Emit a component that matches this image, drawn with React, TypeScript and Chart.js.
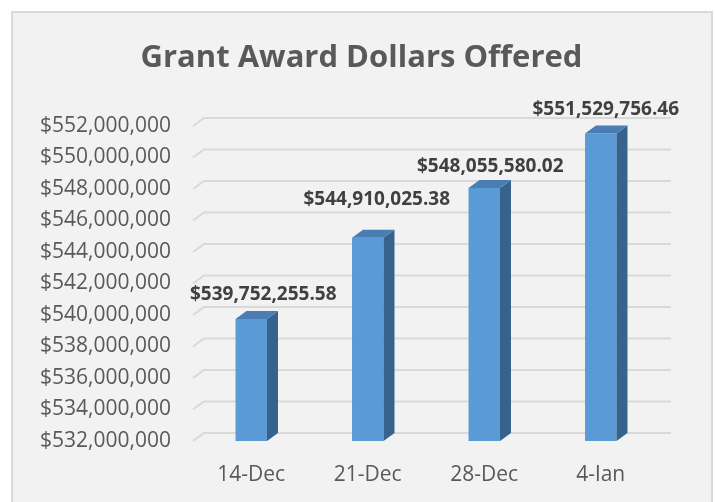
import React, { useEffect, useRef } from 'react';
import { Chart, registerables } from 'chart.js';

Chart.register(...registerables);

// ---- data ----
const chartTitle = 'Grant Award Dollars Offered';
const categories = ['14-Dec', '21-Dec', '28-Dec', '4-Jan'];
const awardDollars = [539752255.58, 544910025.38, 548055580.02, 551529756.46];
const yMin = 532000000;
const yMax = 552000000;
const yStep = 2000000;

// ---- style ----
const DX = 11;
const DY = -8;
const labelShiftX = [12, 9, 6, 5];
const labelLift = [24, 38, 22, 24];
const FONT = '"Open Sans", "Noto Sans", sans-serif';

const money = (v: number, dec: number) =>
  '$' + v.toLocaleString('en-US', { minimumFractionDigits: dec, maximumFractionDigits: dec });

const depthPlugin = {
  id: 'depth3d',
  beforeDatasetsDraw(chart: any) {
    const { ctx, chartArea, scales } = chart;
    const ys = scales.y;
    ctx.save();
    ctx.strokeStyle = '#d9d9d9';
    ctx.lineWidth = 2;
    ys.ticks.forEach((t: any) => {
      const py = ys.getPixelForValue(t.value);
      ctx.beginPath();
      ctx.moveTo(chartArea.left, py);
      ctx.lineTo(chartArea.left + DX, py + DY);
      ctx.lineTo(chartArea.right + DX + 1, py + DY);
      ctx.stroke();
    });
    ctx.restore();
  },
  afterDatasetsDraw(chart: any) {
    const { ctx, chartArea } = chart;
    const meta = chart.getDatasetMeta(0);
    ctx.save();
    meta.data.forEach((bar: any, i: number) => {
      const { x, y, base: rawBase, width } = bar.getProps(['x', 'y', 'base', 'width'], true);
      const base = Math.min(rawBase, chartArea.bottom);
      const l = x - width / 2;
      const r = x + width / 2;
      // side face
      ctx.fillStyle = '#37628b';
      ctx.beginPath();
      ctx.moveTo(r, y);
      ctx.lineTo(r + DX, y + DY);
      ctx.lineTo(r + DX, base + DY);
      ctx.lineTo(r, base);
      ctx.closePath();
      ctx.fill();
      // top face
      ctx.fillStyle = '#4a7db3';
      ctx.beginPath();
      ctx.moveTo(l, y);
      ctx.lineTo(l + DX, y + DY);
      ctx.lineTo(r + DX, y + DY);
      ctx.lineTo(r, y);
      ctx.closePath();
      ctx.fill();
      // data label
      ctx.fillStyle = '#404040';
      ctx.font = `bold 19px ${FONT}`;
      ctx.textAlign = 'center';
      ctx.textBaseline = 'middle';
      ctx.fillText(money(awardDollars[i], 2), x + labelShiftX[i], y - labelLift[i]);
    });
    ctx.restore();
  },
  afterDraw(chart: any) {
    const { ctx } = chart;
    ctx.save();
    ctx.fillStyle = '#595959';
    ctx.font = `bold 31px ${FONT}`;
    ctx.textAlign = 'center';
    ctx.textBaseline = 'alphabetic';
    ctx.fillText(chartTitle, 361.5, 67);
    ctx.restore();
  },
};

export default function App() {
  const ref = useRef<HTMLCanvasElement | null>(null);
  useEffect(() => {
    if (!ref.current) return;
    const chart = new Chart(ref.current, {
      type: 'bar',
      data: {
        labels: categories,
        datasets: [
          {
            data: awardDollars,
            backgroundColor: '#5b9bd5',
            borderWidth: 0,
            barPercentage: 0.27,
            categoryPercentage: 1,
          },
        ],
      },
      options: {
        responsive: false,
        animation: false,
        devicePixelRatio: 1,
        layout: { padding: { top: 126, left: 0, right: 56, bottom: 21 } },
        plugins: {
          legend: { display: false },
          title: { display: false },
          tooltip: { enabled: false },
        },
        scales: {
          x: {
            grid: { display: false, drawTicks: false },
            border: { display: false },
            ticks: { color: '#595959', font: { family: FONT, size: 21 }, padding: 21 },
            afterFit: (s: any) => {
              s.height = 40;
            },
          },
          y: {
            min: yMin,
            max: yMax,
            grid: { display: false, drawTicks: false },
            border: { display: false },
            ticks: {
              stepSize: yStep,
              color: '#595959',
              font: { family: FONT, size: 21 },
              padding: 22,
              callback: (v: any) => money(Number(v), 0),
            },
            afterFit: (s: any) => {
              s.width = 193;
            },
          },
        },
      },
      plugins: [depthPlugin],
    });
    return () => chart.destroy();
  }, []);

  return (
    <div style={{ position: 'fixed', left: 0, top: 0, width: 715, height: 502, background: '#ffffff', overflow: 'hidden' }}>
      <div
        style={{
          position: 'absolute',
          left: 11,
          top: 11,
          width: 702,
          height: 520,
          boxSizing: 'border-box',
          border: '2px solid #d9d9d9',
          background: '#f2f2f2',
        }}
      />
      <canvas ref={ref} width={715} height={502} style={{ position: 'absolute', left: 0, top: 0 }} />
    </div>
  );
}
